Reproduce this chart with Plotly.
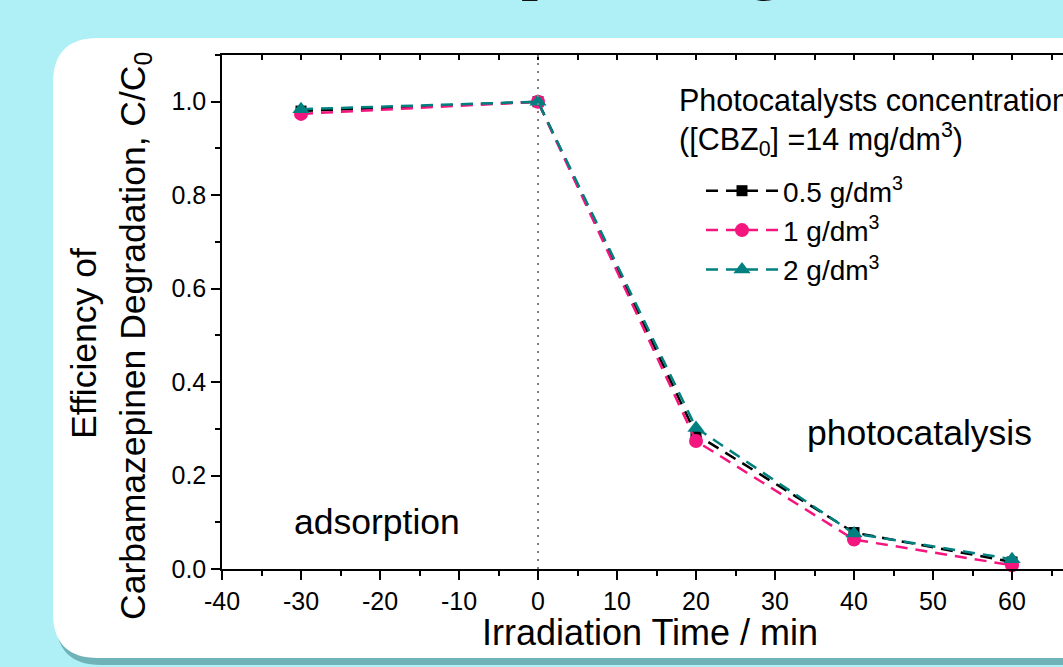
import plotly.graph_objects as go

# ---- data ----
time_min = [-30, 0, 20, 40, 60]
c_05 = [0.980, 1.000, 0.288, 0.078, 0.015]
c_1 = [0.974, 1.000, 0.274, 0.063, 0.008]
c_2 = [0.984, 1.000, 0.302, 0.076, 0.021]
series_names = ["0.5 g/dm<sup>3</sup>", "1 g/dm<sup>3</sup>", "2 g/dm<sup>3</sup>"]
series_colors = ["#000000", "#f5157f", "#008080"]
series_symbols = ["square", "circle", "triangle-up"]
series_sizes = [11, 14, 15]
x_tickvals = [-40, -30, -20, -10, 0, 10, 20, 30, 40, 50, 60]
x_ticktext = ["-40", "-30", "-20", "-10", "0", "10", "20", "30", "40", "50", "60"]
y_tickvals = [0.0, 0.2, 0.4, 0.6, 0.8, 1.0]
y_ticktext = ["0.0", "0.2", "0.4", "0.6", "0.8", "1.0"]

W, H = 1063, 667
ML, MR, MT, MB = 222, 0, 55, 98
PW = W - ML - MR
PH = H - MT - MB


def px_x(p):
    return (p - ML) / PW


def px_y(p):
    return (H - MB - p) / PH


FONT = "Liberation Sans, Arial, sans-serif"

fig = go.Figure()
for vals, name, col, sym, sz in zip([c_05, c_1, c_2], series_names, series_colors,
                                     series_symbols, series_sizes):
    fig.add_trace(go.Scatter(
        x=time_min, y=vals, name=name, mode="lines+markers",
        line=dict(color=col, width=2.5, dash="12px,8px"),
        marker=dict(color=col, symbol=sym, size=sz),
        cliponaxis=False,
    ))

# empty trace to hold the top axis
fig.add_trace(go.Scatter(x=[], y=[], xaxis="x2", showlegend=False))


def panel_path(x0, y0, r, dx=0, dy=0):
    X0, Y0, X1, Y1 = x0 + dx, y0 + dy, 1120 + dx, 658 + dy

    def P(a, b):
        return f"{px_x(a):.5f},{px_y(b):.5f}"
    return (f"M{P(X1, Y0)} L{P(X0 + r, Y0)} Q{P(X0, Y0)} {P(X0, Y0 + r)} "
            f"L{P(X0, Y1 - r)} Q{P(X0, Y1)} {P(X0 + r, Y1)} L{P(X1, Y1)} Z")


shapes = [
    dict(type="path", xref="paper", yref="paper", layer="below",
         path=panel_path(53, 38, 45, 3, 7), fillcolor="rgba(60,130,135,0.55)",
         line=dict(width=0)),
    dict(type="path", xref="paper", yref="paper", layer="below",
         path=panel_path(53, 38, 45), fillcolor="white", line=dict(width=0)),
    dict(type="line", xref="x", yref="paper", x0=0, x1=0, y0=0, y1=1,
         line=dict(color="#808080", width=2, dash="2px,6px")),
]


def ann(text, x, y, size, xref="paper", yref="paper", xanchor="center",
        yanchor="middle", angle=0, family=FONT, color="black"):
    return dict(text=text, xref=xref, yref=yref, x=x, y=y, xanchor=xanchor,
                yanchor=yanchor, textangle=angle, showarrow=False,
                font=dict(family=family, size=size, color=color))


annotations = [
    ann("Photocatalysts concentration", px_x(677), px_y(100), 30.5, xanchor="left"),
    ann("([CBZ<sub>0</sub>] =14 mg/dm<sup>3</sup>)", px_x(677), px_y(139), 30.5, xanchor="left"),
    ann("adsorption", -20.4, 0.10, 35.5, xref="x", yref="y"),
    ann("photocatalysis", 48.3, 0.29, 35.5, xref="x", yref="y"),
    ann("Irradiation Time / min", px_x(650), px_y(632), 36),
    ann("Efficiency of", px_x(84), px_y(344), 35.5, angle=-90),
    ann("Carbamazepinen Degradation, C/C<sub>0</sub>", px_x(135), px_y(336), 35.5, angle=-90),
    ann("p", px_x(538), px_y(-78.5), 70, yanchor="top", family="Liberation Serif, serif", color="#111"),
    ann("g", px_x(765), px_y(-78.5), 70, yanchor="top", family="Liberation Serif, serif", color="#111"),
]

xr = [-40, -40 + PW / 7.9]
axis_common = dict(showline=True, linecolor="black", linewidth=1.5, showgrid=False,
                   zeroline=False, tickcolor="black", tickwidth=1.5,
                   tickfont=dict(family=FONT, size=25, color="black"))

fig.update_layout(
    width=W, height=H, autosize=False,
    margin=dict(l=ML, r=MR, t=MT, b=MB, pad=0),
    paper_bgcolor="#aef0f5", plot_bgcolor="rgba(0,0,0,0)",
    xaxis=dict(range=xr, tickmode="array", tickvals=x_tickvals, ticktext=x_ticktext,
               ticks="outside", ticklen=9,
               minor=dict(dtick=5, tick0=-40, ticks="outside", ticklen=5,
                          tickcolor="black", tickwidth=1.5),
               **axis_common),
    xaxis2=dict(range=xr, overlaying="x", side="top", anchor="y", tick0=-40, dtick=5,
                ticks="inside", ticklen=5, showticklabels=False, **axis_common),
    yaxis=dict(range=[0, 1.1], tickmode="array", tickvals=y_tickvals, ticktext=y_ticktext,
               ticks="outside", ticklen=9,
               minor=dict(dtick=0.1, tick0=0, ticks="outside", ticklen=5,
                          tickcolor="black", tickwidth=1.5),
               **axis_common),
    legend=dict(x=px_x(701), y=px_y(166), xanchor="left", yanchor="top",
                bgcolor="rgba(0,0,0,0)", font=dict(family=FONT, size=28, color="black"),
                itemwidth=72, tracegroupgap=0),
    shapes=shapes, annotations=annotations, showlegend=True,
)

fig.write_html("out.html", config={"displayModeBar": False},
               post_script="document.body.style.margin='0';document.body.style.overflow='hidden';")
